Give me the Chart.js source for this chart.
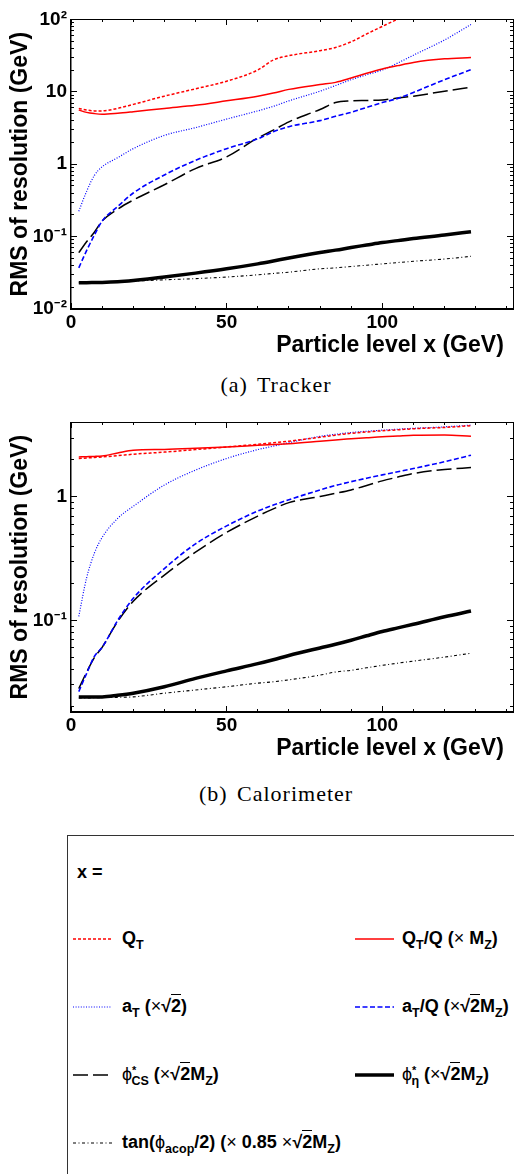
<!DOCTYPE html>
<html>
<head>
<meta charset="utf-8">
<script src="https://cdn.jsdelivr.net/npm/chart.js@4.4.1/dist/chart.umd.min.js"></script>
<style>
  body { margin: 0; width: 514px; height: 1174px; overflow: hidden; background: #fff; position: relative; }
  canvas { position: absolute; left: 0; }
  .caption { position: absolute; left: 126px; width: 300px; text-align: center; font-family: "Liberation Serif", serif;
             font-size: 22px; line-height: 22px; letter-spacing: 1px; word-spacing: 3px; color: #000; }
  #legend { position: absolute; left: 67px; top: 835px; width: 480px; height: 400px; border: 1.5px solid #333;
            font-family: "Liberation Sans", Arial, sans-serif; font-weight: bold; font-size: 18px; color: #000; }
  #legend .item { position: absolute; height: 24px; line-height: 24px; white-space: nowrap; color: #000; }
  #legend svg { vertical-align: middle; }
  #legend sub { font-size: 12.5px; vertical-align: -5px; line-height: 0; color: #000; }
  #legend sup { font-size: 11px; vertical-align: 6px; line-height: 0; }
  #legend .n { font-weight: normal; }
  #legend .ov { border-top: 1.3px solid #000; padding-top: 1px; }
  .frame { position: absolute; border: 1.5px solid #000; pointer-events: none; }
  .tick { position: absolute; background: #000; pointer-events: none; }
</style>
</head>
<body>
<canvas id="tracker" width="514" height="365" style="top:0"></canvas>
<div class="caption" style="top:374px">(a) Tracker</div>
<canvas id="calo" width="514" height="365" style="top:403px"></canvas>
<div class="caption" style="top:783px">(b) Calorimeter</div>
<div id="legend"></div>

<script>
// x positions (GeV) shared by all curves
const xValues = [2.5, 5, 7.5, 10, 15, 20, 30, 40, 50, 60, 65, 70, 80, 85, 90, 95, 100, 105, 110, 120, 128.5];

// (a) Tracker
const trkQT     = [5.9, 5.6, 5.45, 5.45, 5.9, 6.7, 8.7, 11, 14, 20, 27.5, 31.5, 37, 41, 49, 63, 80, 100, 115, 118, 100];
const trkQTQ    = [5.6, 5.2, 5.0, 4.9, 5.05, 5.3, 5.9, 6.5, 7.5, 8.7, 9.6, 10.8, 12.6, 13.5, 15.5, 18, 20.6, 23, 25.4, 28.5, 29.7];
const trkAT     = [0.224, 0.42, 0.7, 0.92, 1.23, 1.64, 2.5, 3.2, 4.2, 5.45, 6.3, 7.5, 10.2, 12.2, 14.7, 17.2, 20, 25, 32, 52, 85];
const trkATQ    = [0.037, 0.064, 0.105, 0.164, 0.26, 0.4, 0.71, 1.13, 1.64, 2.24, 2.8, 3.3, 4.0, 4.6, 5.2, 6.1, 7.1, 8.1, 9.8, 14.7, 20.2];
const trkPhiCS  = [0.06, 0.085, 0.115, 0.164, 0.24, 0.32, 0.52, 0.87, 1.26, 2.3, 2.95, 3.85, 5.7, 7.1, 7.5, 7.6, 7.7, 8.2, 8.7, 10.2, 11.6];
const trkPhiEta = [0.0231, 0.0231, 0.0232, 0.0233, 0.0238, 0.0248, 0.0276, 0.0313, 0.0359, 0.042, 0.046, 0.0507, 0.0605, 0.065, 0.0707, 0.0765, 0.0828, 0.088, 0.094, 0.105, 0.117];
const trkTan    = [0.023, 0.023, 0.0231, 0.0233, 0.0237, 0.0243, 0.0253, 0.0263, 0.0276, 0.0297, 0.031, 0.0323, 0.0359, 0.037, 0.0386, 0.0403, 0.042, 0.0438, 0.0456, 0.049, 0.0534];

// (b) Calorimeter
const calQT     = [2.05, 2.07, 2.09, 2.11, 2.16, 2.22, 2.31, 2.42, 2.54, 2.67, 2.75, 2.83, 3.05, 3.17, 3.28, 3.36, 3.44, 3.5, 3.57, 3.66, 3.78];
const calQTQ    = [2.11, 2.12, 2.13, 2.15, 2.27, 2.39, 2.43, 2.48, 2.54, 2.62, 2.66, 2.7, 2.83, 2.9, 2.96, 3.02, 3.08, 3.12, 3.16, 3.18, 3.1];
const calAT     = [0.108, 0.22, 0.35, 0.47, 0.67, 0.84, 1.25, 1.65, 2.05, 2.42, 2.58, 2.75, 3.1, 3.22, 3.33, 3.41, 3.48, 3.54, 3.6, 3.7, 3.82];
const calATQ    = [0.0265, 0.037, 0.051, 0.0605, 0.1, 0.151, 0.263, 0.417, 0.583, 0.769, 0.86, 0.95, 1.14, 1.24, 1.33, 1.42, 1.51, 1.6, 1.7, 1.93, 2.18];
const calPhiCS  = [0.028, 0.038, 0.05, 0.0605, 0.098, 0.143, 0.233, 0.357, 0.516, 0.70, 0.80, 0.9, 1.01, 1.07, 1.14, 1.24, 1.35, 1.45, 1.55, 1.67, 1.73];
const calPhiEta = [0.0239, 0.0239, 0.024, 0.024, 0.0247, 0.0257, 0.029, 0.0339, 0.039, 0.0446, 0.048, 0.052, 0.0598, 0.064, 0.069, 0.075, 0.0813, 0.087, 0.093, 0.107, 0.119];
const calTan    = [0.0235, 0.0235, 0.0236, 0.0237, 0.0238, 0.024, 0.0257, 0.0273, 0.029, 0.031, 0.0318, 0.033, 0.036, 0.0382, 0.0394, 0.0413, 0.0432, 0.045, 0.0468, 0.0504, 0.0542];

// axis ticks (labelled ones)
const xTicks = [0, 50, 100];
const xTickLabels = ['0', '50', '100'];
const trkYTicks = [0.01, 0.1, 1, 10, 100];
const trkYLabels = ['10\u207B\u00B2', '10\u207B\u00B9', '1', '10', '10\u00B2'];
const calYTicks = [0.1, 1];
const calYLabels = ['10\u207B\u00B9', '1'];

// series styles, same order as the data lists
const seriesColors = ['#ff0000', '#ff0000', '#0000ff', '#0000ff', '#000000', '#000000', '#000000'];
const seriesDash   = [[3, 2], [], [1, 1.6], [5, 2.5], [15, 5], [], [3, 2.5, 1, 2.5]];
const seriesWidth  = [1.5, 1.5, 1.2, 1.6, 1.5, 3.5, 1.1];
const rt = '<span class="n">\u00D7</span>\u221A<span class="ov">2</span>';
const seriesLabels = [
  'Q<sub>T</sub>',
  'Q<sub>T</sub>/Q (<span class="n">\u00D7</span> M<sub>Z</sub>)',
  'a<sub>T</sub> (' + rt + ')',
  'a<sub>T</sub>/Q (' + rt + 'M<sub>Z</sub>)',
  '<span class="n">\u03D5</span><sup>*</sup><sub style="margin-left:-5px">CS</sub> (' + rt + 'M<sub>Z</sub>)',
  '<span class="n">\u03D5</span><sup>*</sup><sub style="margin-left:-5px">\u03B7</sub> (' + rt + 'M<sub>Z</sub>)',
  'tan(<span class="n">\u03D5</span><sub>acop</sub>/2) (<span class="n">\u00D7</span> 0.85 ' + rt + 'M<sub>Z</sub>)'
];

const tickFont = { family: '"Liberation Sans", "Noto Sans"', weight: 'bold', size: 19 };
const titleFont = { family: '"Liberation Sans"', weight: 'bold', size: 23 };
const X_MAX = 142;

// tick marks every 10 GeV, and log minor ticks 1..9 per decade
function xMarks() {
  const out = [];
  for (let v = 0; v <= X_MAX; v += 10) out.push({ value: v });
  return out;
}
function yMarks(min, max) {
  const out = [];
  for (let e = -3; e <= 2; e++) {
    for (let k = 1; k <= 9; k++) {
      const v = k * Math.pow(10, e);
      if (v >= min * 0.9999 && v <= max * 1.0001) out.push({ value: v });
    }
  }
  return out;
}

// tick marks are drawn as an overlay below; the library's own marks stay transparent
const inwardGrid = { display: true, drawOnChartArea: false, drawTicks: true, tickLength: -4, color: 'rgba(0,0,0,0)', tickColor: 'rgba(0,0,0,0)', tickWidth: 1 };
const frameBorder = { display: true, color: '#000', width: 1.5 };

function makeChart(id, series, yMin, yMax, yTicks, yLabels) {
  const yLabel = v => {
    const k = yTicks.findIndex(t => Math.abs(Math.log10(t) - Math.log10(v)) < 1e-6);
    return k < 0 ? '' : yLabels[k];
  };
  return new Chart(document.getElementById(id), {
    type: 'line',
    data: {
      datasets: series.map((vals, i) => ({
        data: xValues.map((x, j) => ({ x: x, y: vals[j] })),
        borderColor: seriesColors[i],
        borderDash: seriesDash[i],
        borderWidth: seriesWidth[i],
        pointRadius: 0,
        fill: false,
        cubicInterpolationMode: 'monotone',
        clip: 0
      }))
    },
    options: {
      responsive: false,
      animation: false,
      layout: { padding: { top: 15, right: 1, left: 0, bottom: 0 } },
      plugins: { legend: { display: false }, tooltip: { enabled: false } },
      scales: {
        x: {
          type: 'linear', position: 'bottom', min: 0, max: X_MAX,
          afterBuildTicks: s => { s.ticks = xMarks(); },
          afterFit: s => { s.height = 56; },
          grid: inwardGrid,
          border: frameBorder,
          ticks: {
            padding: 6, color: '#000', font: tickFont, maxRotation: 0, autoSkip: false,
            callback: v => { const k = xTicks.indexOf(v); return k < 0 ? '' : xTickLabels[k]; }
          },
          title: {
            display: true, text: 'Particle level x (GeV)\u2009\u2009', align: 'end',
            color: '#000', font: titleFont, padding: { top: 0, bottom: 6 }
          }
        },
        y: {
          type: 'logarithmic', position: 'left', min: yMin, max: yMax,
          afterBuildTicks: s => { s.ticks = yMarks(yMin, yMax); },
          afterFit: s => { s.width = 71; },
          grid: inwardGrid,
          border: frameBorder,
          ticks: { padding: 8, color: '#000', font: tickFont, autoSkip: false, callback: yLabel },
          title: {
            display: true, text: 'RMS of resolution (GeV)',
            color: '#000', font: titleFont, padding: { top: 7, bottom: 0 }
          }
        }
      }
    }
  });
}

// frame box and inward ROOT-style ticks, positioned from the chart's scales
function addFrame(chart, offsetTop) {
  const a = chart.chartArea, xs = chart.scales.x, ys = chart.scales.y;
  const box = document.createElement('div');
  box.className = 'frame';
  box.style.left = (a.left - 0.75) + 'px';
  box.style.top = (offsetTop + a.top - 0.75) + 'px';
  box.style.width = (a.right - a.left) + 'px';
  box.style.height = (a.bottom - a.top) + 'px';
  document.body.appendChild(box);
  const mark = (x, y, w, h) => {
    const d = document.createElement('div');
    d.className = 'tick';
    d.style.left = x + 'px'; d.style.top = y + 'px';
    d.style.width = w + 'px'; d.style.height = h + 'px';
    document.body.appendChild(d);
  };
  xMarks().forEach(t => {
    const len = t.value % 50 === 0 ? 6 : 3;
    const px = xs.getPixelForValue(t.value);
    mark(px - 0.5, offsetTop + a.bottom - len, 1, len);
    mark(px - 0.5, offsetTop + a.top, 1, len);
  });
  yMarks(ys.min, ys.max).forEach(t => {
    const lg = Math.log10(t.value);
    const len = Math.abs(lg - Math.round(lg)) < 1e-6 ? 6 : 3;
    const py = ys.getPixelForValue(t.value);
    mark(a.left, offsetTop + py - 0.5, len, 1);
    mark(a.right - len, offsetTop + py - 0.5, len, 1);
  });
}

const trackerChart = makeChart('tracker', [trkQT, trkQTQ, trkAT, trkATQ, trkPhiCS, trkPhiEta, trkTan], 0.01, 100, trkYTicks, trkYLabels);
const caloChart = makeChart('calo', [calQT, calQTQ, calAT, calATQ, calPhiCS, calPhiEta, calTan], 0.0181, 4.02, calYTicks, calYLabels);
addFrame(trackerChart, 0);
addFrame(caloChart, 403);

// legend box below the two plots
const legend = document.getElementById('legend');
let html = '<div class="item" style="left:9px;top:24px">x =</div>';
seriesLabels.forEach((label, i) => {
  const row = Math.floor(i / 2), col = i % 2;
  const top = 90 + row * 68;
  const sx = col === 0 ? 5 : 287;
  const tx = col === 0 ? 54 : 334;
  html += '<div class="item" style="left:' + sx + 'px;top:' + top + 'px"><svg width="39" height="8">' +
    '<line x1="0" y1="4" x2="39" y2="4" stroke="' + seriesColors[i] + '" stroke-width="' + seriesWidth[i] +
    '" stroke-dasharray="' + (seriesDash[i].length ? seriesDash[i].join(' ') : 'none') + '"/></svg></div>';
  html += '<div class="item" style="left:' + tx + 'px;top:' + top + 'px">' + label + '</div>';
});
legend.innerHTML = html;
</script>
</body>
</html>
